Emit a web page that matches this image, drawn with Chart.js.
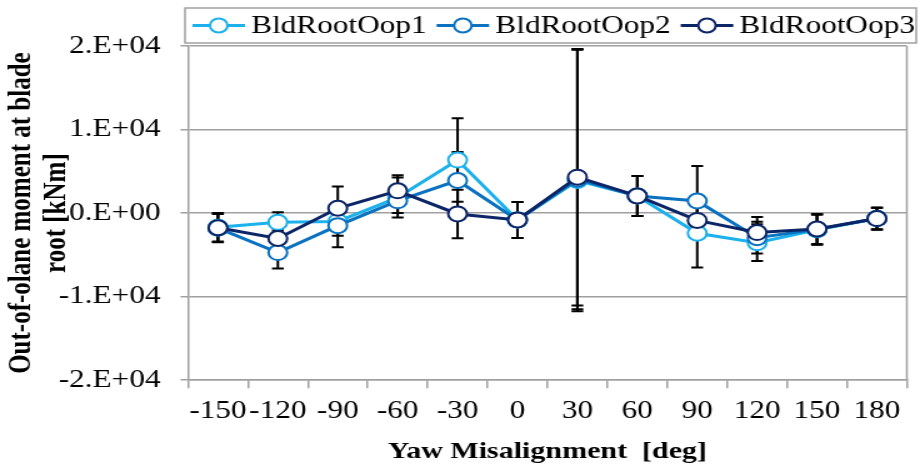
<!DOCTYPE html>
<html>
<head>
<meta charset="utf-8">
<script src="https://cdn.jsdelivr.net/npm/chart.js@4.4.1/dist/chart.umd.min.js"></script>
<style>
html, body { margin: 0; padding: 0; background: #fff; overflow: hidden; }
/* the original picture is stretched sideways, so the chart is drawn narrow and widened */
#wrap { width: 735px; height: 468px; transform: scaleX(1.25); transform-origin: 0 0; }
</style>
</head>
<body>
<div id="wrap"><canvas id="chart" width="735" height="468"></canvas></div>
<script>
const yawLabels = ['-150', '-120', '-90', '-60', '-30', '0', '30', '60', '90', '120', '150', '180'];
const yTickLabels = ['-2.E+04', '-1.E+04', '0.E+00', '1.E+04', '2.E+04'];

const oop1 = [-1700, -1100, -1000, 1870, 6350, -820, 3900, 2050, -2410, -3540, -2000, -650];
const oop2 = [-1800, -4720, -1500, 1470, 3900, -820, 4050, 2050, 1450, -2940, -1950, -650];
const oop3 = [-1750, -3040, 580, 2670, -100, -820, 4300, 2050, -880, -2330, -1900, -650];

const oop1Err = [1700, 1200, 1700, 2400, 5000, 2150, 15650, 2400, 4100, 2200, 1800, 1300];
const oop2Err = [1700, 1900, 2600, 1470, 3400, 2150, 15550, 2400, 4200, 1900, 1800, 1300];
const oop3Err = [1700, 1000, 2600, 1850, 2900, 2150, 15350, 2400, 2000, 1850, 1800, 1300];

const serif = "'Liberation Serif', 'Times New Roman', serif";
const gridGray = '#a0a0a0';

function series(label, data, errors, color, order) {
    return {
        label: label,
        data: data,
        errors: errors,
        borderColor: color,
        backgroundColor: '#ffffff',
        borderWidth: 3,
        pointRadius: 7.5,
        pointHoverRadius: 7.5,
        pointBorderWidth: 2,
        pointBorderColor: color,
        pointBackgroundColor: '#ffffff',
        tension: 0,
        order: order
    };
}

// black error bars under the lines
const errorBars = {
    id: 'errorBars',
    beforeDatasetsDraw(chart) {
        const { ctx, scales: { x, y } } = chart;
        ctx.save();
        ctx.strokeStyle = '#000000';
        ctx.lineWidth = 2;
        chart.data.datasets.forEach(ds => {
            ds.errors.forEach((e, j) => {
                const px = x.getPixelForValue(j);
                const top = y.getPixelForValue(ds.data[j] + e);
                const bot = y.getPixelForValue(ds.data[j] - e);
                ctx.beginPath();
                ctx.moveTo(px, top);
                ctx.lineTo(px, bot);
                ctx.moveTo(px - 4.7, top);
                ctx.lineTo(px + 4.7, top);
                ctx.moveTo(px - 4.7, bot);
                ctx.lineTo(px + 4.7, bot);
                ctx.stroke();
            });
        });
        ctx.restore();
    }
};

// right edge of the plot box and the boxed legend on top
const frameAndLegend = {
    id: 'frameAndLegend',
    afterDraw(chart) {
        const { ctx, chartArea } = chart;
        ctx.save();
        ctx.strokeStyle = gridGray;
        ctx.lineWidth = 1.5;
        ctx.beginPath();
        ctx.moveTo(chartArea.right, chartArea.top);
        ctx.lineTo(chartArea.right, chartArea.bottom);
        ctx.stroke();

        ctx.fillStyle = '#ffffff';
        ctx.fillRect(148, 8, 585, 35);
        ctx.strokeRect(148, 8, 585, 35);

        ctx.font = '25px ' + serif;
        ctx.textBaseline = 'middle';
        let x = 154;
        const cy = 25.5;
        chart.data.datasets.forEach(ds => {
            ctx.strokeStyle = ds.borderColor;
            ctx.lineWidth = 3;
            ctx.beginPath();
            ctx.moveTo(x, cy);
            ctx.lineTo(x + 42, cy);
            ctx.stroke();
            ctx.fillStyle = '#ffffff';
            ctx.lineWidth = 2;
            ctx.beginPath();
            ctx.arc(x + 21, cy, 7, 0, Math.PI * 2);
            ctx.fill();
            ctx.stroke();
            ctx.fillStyle = '#000000';
            ctx.fillText(ds.label, x + 47, cy + 1);
            x += 47 + ctx.measureText(ds.label).width + 8;
        });
        ctx.restore();
    }
};

new Chart(document.getElementById('chart'), {
    type: 'line',
    data: {
        labels: yawLabels,
        datasets: [
            series('BldRootOop1', oop1, oop1Err, '#1cb1ec', 3),
            series('BldRootOop2', oop2, oop2Err, '#0a72c0', 2),
            series('BldRootOop3', oop3, oop3Err, '#0c2566', 1)
        ]
    },
    options: {
        responsive: false,
        devicePixelRatio: 1,
        animation: false,
        layout: { padding: { top: 46, right: 4.6, bottom: 0, left: 0 } },
        plugins: {
            legend: { display: false },
            tooltip: { enabled: false }
        },
        scales: {
            x: {
                type: 'category',
                offset: true,
                grid: {
                    offset: true,
                    drawOnChartArea: false,
                    color: gridGray,
                    lineWidth: 1.5,
                    tickLength: 8
                },
                border: { color: gridGray, width: 1.5 },
                ticks: {
                    color: '#000000',
                    font: { family: serif, size: 25 },
                    padding: 8,
                    autoSkip: false,
                    maxRotation: 0,
                    minRotation: 0
                },
                title: {
                    display: true,
                    text: 'Yaw Misalignment  [deg]',
                    color: '#000000',
                    font: { family: serif, size: 24, weight: 'bold' },
                    padding: { top: 3, bottom: 2 }
                }
            },
            y: {
                min: -20000,
                max: 20000,
                afterFit(scale) { scale.width = 150.4; },
                grid: {
                    color: gridGray,
                    lineWidth: 1.5,
                    tickLength: 6
                },
                border: { color: gridGray, width: 1.5 },
                ticks: {
                    stepSize: 10000,
                    color: '#000000',
                    font: { family: serif, size: 25 },
                    padding: 16,
                    callback: (value, index) => yTickLabels[index]
                },
                title: {
                    display: true,
                    text: ['Out-of-olane moment at blade', 'root [kNm]'],
                    color: '#000000',
                    font: { family: serif, size: 25, weight: 'bold', lineHeight: 1.12 },
                    padding: { top: 4, bottom: 0 }
                }
            }
        }
    },
    plugins: [errorBars, frameAndLegend]
});
</script>
</body>
</html>
